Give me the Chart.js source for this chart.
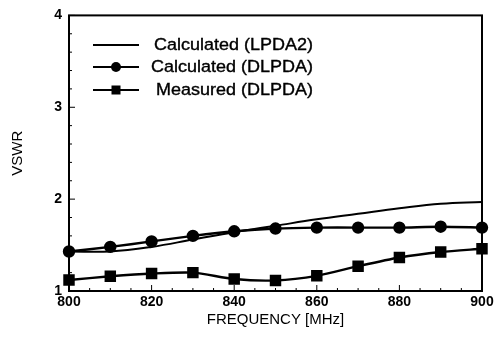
<!DOCTYPE html>
<html>
<head>
<meta charset="utf-8">
<script src="https://cdn.jsdelivr.net/npm/chart.js@4/dist/chart.umd.min.js"></script>
<style>
  html, body { margin: 0; padding: 0; background: #fff; }
  #wrap { width: 500px; height: 341px; }
</style>
</head>
<body>
<div id="wrap"><canvas id="vswr"></canvas></div>
<script>
// Values
const freq = [800, 810, 820, 830, 840, 850, 860, 870, 880, 890, 900];
const lpda2 = [1.43, 1.43, 1.48, 1.56, 1.64, 1.71, 1.78, 1.84, 1.90, 1.95, 1.97];
const dlpdaCalc = [1.43, 1.48, 1.54, 1.60, 1.65, 1.68, 1.69, 1.69, 1.69, 1.70, 1.69];
const dlpdaMeas = [1.12, 1.16, 1.19, 1.20, 1.13, 1.115, 1.165, 1.27, 1.365, 1.425, 1.46];
const seriesNames = ['Calculated (LPDA2)', 'Calculated (DLPDA)', 'Measured (DLPDA)'];
const xTicks = [800, 820, 840, 860, 880, 900];
const yTicks = [1, 2, 3, 4];

const FONT = '"Liberation Sans", Arial, sans-serif';
const toPoints = (ys) => freq.map((f, i) => ({ x: f, y: ys[i] }));

// frame, inward ticks and the legend inside the plot box
const framePlugin = {
    id: 'frame',
    afterDraw(chart) {
        const { ctx, chartArea: a, scales: { x, y } } = chart;
        ctx.save();
        ctx.strokeStyle = '#000';
        ctx.lineWidth = 2;
        ctx.strokeRect(a.left, a.top, a.right - a.left, a.bottom - a.top);

        ctx.lineWidth = 1;
        ctx.beginPath();
        for (let f = 800; f <= 900; f += 5) {
            const px = x.getPixelForValue(f);
            const len = xTicks.includes(f) ? 6 : 3;
            ctx.moveTo(px, a.bottom);
            ctx.lineTo(px, a.bottom - len);
        }
        for (let k = 0; k <= 15; k++) {
            const py = y.getPixelForValue(1 + k * 0.2);
            const len = (k % 5 === 0) ? 6 : 3;
            ctx.moveTo(a.left, py);
            ctx.lineTo(a.left + len, py);
        }
        ctx.stroke();

        // legend
        const rows = [45, 67, 90];
        ctx.font = '15px ' + FONT;
        ctx.fillStyle = '#000';
        chart.data.datasets.forEach((ds, i) => {
            const ry = rows[i];
            ctx.lineWidth = i === 0 ? 1.8 : 2.2;
            ctx.beginPath();
            ctx.moveTo(93, ry);
            ctx.lineTo(139, ry);
            ctx.stroke();
            if (ds.pointStyle === 'circle') {
                ctx.beginPath();
                ctx.arc(116, ry, 5, 0, Math.PI * 2);
                ctx.fill();
            } else if (ds.pointStyle === 'rect') {
                ctx.fillRect(111.5, ry - 4.5, 9, 9);
            }
            ctx.save();
            ctx.translate(313, ry);
            ctx.scale(1.2, 1.05);
            ctx.textAlign = 'right';
            ctx.textBaseline = 'middle';
            ctx.lineWidth = 0.35;
            ctx.fillText(seriesNames[i], 0, 1);
            ctx.strokeText(seriesNames[i], 0, 1);
            ctx.restore();
        });
        ctx.restore();
    }
};

new Chart(document.getElementById('vswr'), {
    type: 'line',
    data: {
        datasets: [{
            label: seriesNames[0],
            data: toPoints(lpda2),
            borderColor: '#000',
            borderWidth: 2,
            pointRadius: 0,
            pointStyle: false,
            tension: 0.4
        }, {
            label: seriesNames[1],
            data: toPoints(dlpdaCalc),
            borderColor: '#000',
            backgroundColor: '#000',
            borderWidth: 2.4,
            pointStyle: 'circle',
            pointRadius: 5,
            tension: 0.25
        }, {
            label: seriesNames[2],
            data: toPoints(dlpdaMeas),
            borderColor: '#000',
            backgroundColor: '#000',
            borderWidth: 2.4,
            pointStyle: 'rect',
            pointRadius: 6.4,
            tension: 0.25
        }]
    },
    options: {
        responsive: true,
        maintainAspectRatio: false,
        animation: false,
        clip: false,
        layout: { padding: { top: 12, right: 18, left: 0, bottom: 0 } },
        plugins: {
            legend: { display: false },
            tooltip: { enabled: false }
        },
        scales: {
            x: {
                type: 'linear',
                min: 800,
                max: 900,
                afterFit: (s) => { s.height = 50; },
                afterBuildTicks: (s) => { s.ticks = xTicks.map(v => ({ value: v })); },
                grid: { display: false, drawTicks: false },
                border: { display: false },
                ticks: {
                    color: '#000',
                    padding: 3,
                    maxRotation: 0,
                    font: { family: FONT, size: 14, weight: 'bold' }
                },
                title: {
                    display: true,
                    text: 'FREQUENCY [MHz]',
                    color: '#000',
                    padding: { top: 0, bottom: 12 },
                    font: { family: FONT, size: 15 }
                }
            },
            y: {
                min: 1,
                max: 4,
                afterFit: (s) => { s.width = 69; },
                afterBuildTicks: (s) => { s.ticks = yTicks.map(v => ({ value: v })); },
                grid: { display: false, drawTicks: false },
                border: { display: false },
                ticks: {
                    color: '#000',
                    padding: 7,
                    font: { family: FONT, size: 14, weight: 'bold' }
                },
                title: {
                    display: true,
                    text: 'VSWR',
                    color: '#000',
                    padding: { top: 9, bottom: 0 },
                    font: { family: FONT, size: 15 }
                }
            }
        }
    },
    plugins: [framePlugin]
});
</script>
</body>
</html>
